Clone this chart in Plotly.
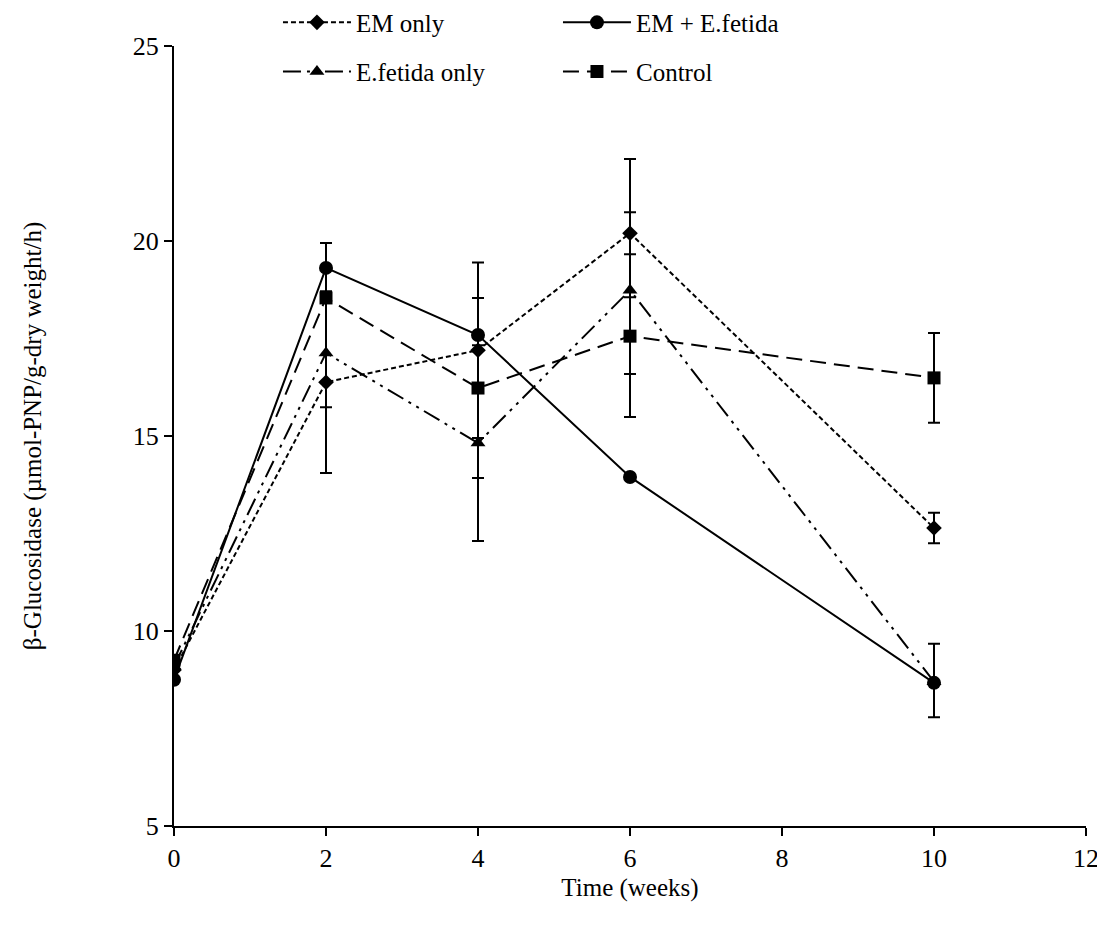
import plotly.graph_objects as go

weeks = [0, 2, 4, 6, 10]

em_only = [9.0, 16.38, 17.2, 20.2, 12.64]
em_only_err_plus = [0, 2.33, 2.25, 1.9, 0.39]
em_only_err_minus = [0, 2.33, 2.25, 1.64, 0.39]

em_efetida = [8.75, 19.31, 17.59, 13.95, 8.67]
em_efetida_err_plus = [0, 0.64, 0, 0, 1.0]
em_efetida_err_minus = [0, 0.64, 0, 0, 0.88]

efetida_only = [9.1, 17.13, 14.82, 18.74, 8.7]
efetida_only_err_plus = [0, 1.39, 2.51, 2.0, 0]
efetida_only_err_minus = [0, 1.39, 2.51, 2.15, 0]

control = [9.25, 18.54, 16.23, 17.56, 16.49]
control_err_plus = [0, 0, 2.31, 2.1, 1.15]
control_err_minus = [0, 0, 2.31, 2.07, 1.15]

FONT = "Liberation Serif, Times New Roman, serif"

series = [
    ("EM only", em_only, em_only_err_plus, em_only_err_minus, "diamond", 12, "5px,3px", "legend"),
    ("EM + E.fetida", em_efetida, em_efetida_err_plus, em_efetida_err_minus, "circle", 14, "solid", "legend"),
    ("E.fetida only", efetida_only, efetida_only_err_plus, efetida_only_err_minus, "triangle-up", 13, "18px,6px,3px,6px,3px,6px", "legend2"),
    ("Control", control, control_err_plus, control_err_minus, "square", 13, "16px,8px", "legend2"),
]

fig = go.Figure()
for name, ys, ep, em, sym, size, dash, leg in series:
    fig.add_trace(go.Scatter(
        x=weeks, y=ys, name=name, mode="lines+markers",
        line=dict(color="black", width=2, dash=dash),
        marker=dict(symbol=sym, size=size, color="black"),
        error_y=dict(type="data", symmetric=False, array=ep, arrayminus=em,
                     color="black", thickness=2, width=6),
        legend=leg,
    ))

legend_common = dict(
    orientation="h", font=dict(family=FONT, size=25, color="black"),
    itemwidth=68, entrywidth=197, entrywidthmode="pixels",
    xanchor="left", yanchor="middle", bgcolor="rgba(0,0,0,0)",
    itemsizing="trace", tracegroupgap=0,
)

fig.update_layout(
    width=1105, height=935,
    margin=dict(l=166, r=27, t=38, b=117, autoexpand=False),
    plot_bgcolor="white", paper_bgcolor="white",
    font=dict(family=FONT, size=25, color="black"),
    showlegend=True,
    legend=dict(x=0.114, y=1.03, **legend_common),
    legend2=dict(x=0.114, y=0.967, **legend_common),
    xaxis=dict(
        range=[0, 12], tickvals=[0, 2, 4, 6, 8, 10, 12],
        showline=True, linecolor="black", linewidth=2,
        ticks="outside", ticklen=8, tickwidth=2, tickcolor="black",
        showgrid=False, zeroline=False,
        tickfont=dict(family=FONT, size=26, color="black"),
        title=dict(text="Time (weeks)", font=dict(family=FONT, size=25, color="black"), standoff=6),
    ),
    yaxis=dict(
        range=[5, 25], tickvals=[5, 10, 15, 20, 25],
        showline=True, linecolor="black", linewidth=2,
        ticks="outside", ticklen=8, tickwidth=2, tickcolor="black",
        showgrid=False, zeroline=False,
        tickfont=dict(family=FONT, size=26, color="black"),
        title=dict(text="β-Glucosidase (µmol-PNP/g-dry weight/h)",
                   font=dict(family=FONT, size=25, color="black"), standoff=84),
    ),
)

fig.write_html("out.html")
